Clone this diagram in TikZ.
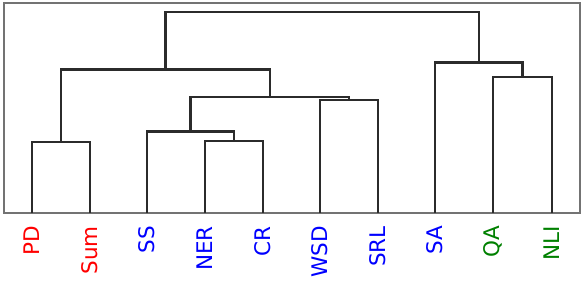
\documentclass[tikz,border=0pt]{standalone}
\usepackage{fontspec}
\newfontfamily\labelfont{DejaVu Sans}
\definecolor{taskred}{rgb}{1,0,0}
\definecolor{taskblue}{rgb}{0,0,1}
\definecolor{taskgreen}{rgb}{0,0.5,0}
\definecolor{linkgray}{rgb}{0.17,0.17,0.17}
\definecolor{framegray}{rgb}{0.45,0.45,0.45}
\begin{document}
\begin{tikzpicture}[
  x=1pt, y=1pt,
  frame/.style={draw=framegray, line width=1.3pt},
  link/.style={draw=linkgray, line width=2.2pt, line join=miter},
  task/.style={rotate=90, anchor=east, inner sep=0pt, font=\labelfont\fontsize{21.5}{25}\selectfont}
]
\useasboundingbox (0,0) rectangle (586,283);
\draw[frame] (4,70) rectangle (580,280);
% leaves
\coordinate (pd)  at (32,70);
\coordinate (sum) at (90,70);
\coordinate (ss)  at (147,70);
\coordinate (ner) at (205,70);
\coordinate (cr)  at (263,70);
\coordinate (wsd) at (320,70);
\coordinate (srl) at (378,70);
\coordinate (sa)  at (435,70);
\coordinate (qa)  at (493,70);
\coordinate (nli) at (552,70);
% merges
\coordinate (m1) at (61,141);
\coordinate (m2) at (234,142);
\coordinate (m3) at (190.5,151.5);
\coordinate (m4) at (349,183);
\coordinate (m5) at (270,186.3);
\coordinate (m6) at (165.5,213.5);
\coordinate (m7) at (522.5,206);
\coordinate (m8) at (479,220.5);
\coordinate (m9) at (322,271.3);
\draw[link] (pd) |- (m1) -| (sum);
\draw[link] (ner) |- (m2) -| (cr);
\draw[link] (ss) |- (m3) -| (m2);
\draw[link] (wsd) |- (m4) -| (srl);
\draw[link] (m3) |- (m5) -| (m4);
\draw[link] (m1) |- (m6) -| (m5);
\draw[link] (qa) |- (m7) -| (nli);
\draw[link] (sa) |- (m8) -| (m7);
\draw[link] (m6) |- (m9) -| (m8);
% labels
\node[task, text=taskred]   (lpd)  at (32,57)  {PD};
\node[task, text=taskred]   (lsum) at (90,57)  {Sum};
\node[task, text=taskblue]  (lss)  at (147,57) {SS};
\node[task, text=taskblue]  (lner) at (205,57) {NER};
\node[task, text=taskblue]  (lcr)  at (263,57) {CR};
\node[task, text=taskblue]  (lwsd) at (320,57) {WSD};
\node[task, text=taskblue]  (lsrl) at (378,57) {SRL};
\node[task, text=taskblue]  (lsa)  at (435,57) {SA};
\node[task, text=taskgreen] (lqa)  at (493,57) {QA};
\node[task, text=taskgreen] (lnli) at (552,57) {NLI};
\end{tikzpicture}
\end{document}
